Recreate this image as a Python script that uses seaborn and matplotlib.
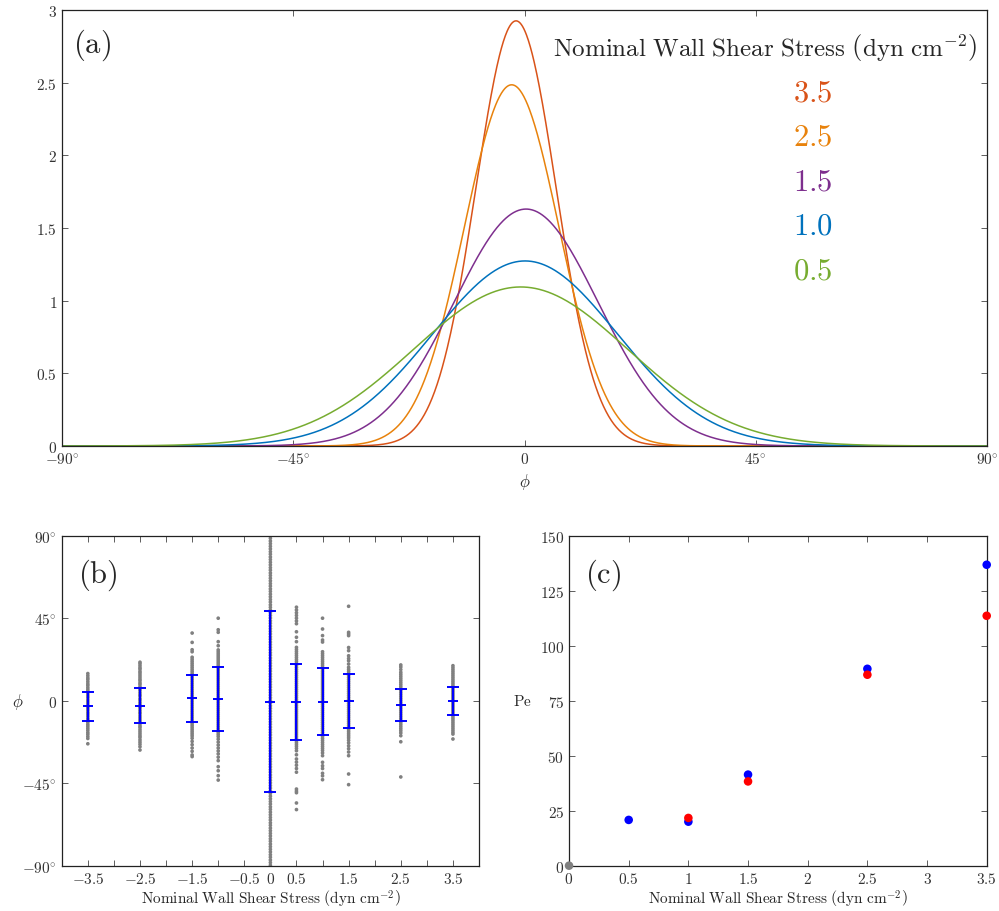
import numpy as np
import pandas as pd
import matplotlib
matplotlib.use("Agg")
import matplotlib.pyplot as plt
import seaborn as sns

# ---------------- data ----------------
# (a) fitted angular distributions: label, peak height, peak position (deg)
curve_labels = ["3.5", "2.5", "1.5", "1.0", "0.5"]
curve_peak = [2.925, 2.485, 1.63, 1.273, 1.094]
curve_center = [-1.65, -2.5, 0.3, 0.1, -0.75]
curve_colors = ["#D95319", "#E8820C", "#7E2F8E", "#0072BD", "#77AC30"]

# (b) individual cell orientations (deg) per nominal wall shear stress
grp_m35 = [14.8, 13.6, 12.4, 11.5, 10.3, 9.1, 8.2, 7.0, 5.9, 4.9, 3.7, 2.6, 1.6, 0.4, -0.7,
           -1.8, -3.0, -4.0, -5.1, -6.3, -7.3, -8.4, -9.6, -10.6, -11.7, -12.9, -13.9, -15.0,
           -16.1, -17.3, -18.3, -19.5, -20.6, -23.5]
grp_m25 = [21.0, 20.2, 19.1, 18.0, 17.2, 16.0, 15.1, 14.0, 12.9, 11.8, 10.9, 9.7, 8.8, 7.6,
           6.5, 5.6, 4.4, 3.3, 2.5, 1.2, 0.3, -0.9, -2.0, -3.1, -4.0, -5.2, -6.3, -7.1, -8.3,
           -9.4, -10.5, -11.5, -12.6, -13.8, -14.7, -15.9, -17.0, -18.1, -19.2, -20.1, -21.4,
           -22.6, -23.8, -25.1, -26.9]
grp_m15 = [36.9, 31.8, 27.8, 26.7, 23.7, 22.6, 21.5, 20.4, 19.3, 18.2, 17.1, 16.0, 14.9, 13.8,
           12.7, 11.6, 10.5, 9.4, 8.3, 7.2, 6.1, 5.0, 3.9, 2.8, 1.7, 0.6, -0.5, -1.6, -2.7,
           -3.8, -4.9, -6.0, -7.1, -8.2, -9.3, -10.4, -11.5, -12.6, -13.7, -14.8, -15.9, -17.0,
           -18.1, -19.2, -20.5, -22.2, -24.0, -25.8, -27.6, -29.6, -30.5]
grp_m10 = [45.0, 38.7, 37.3, 32.2, 30.0, 27.7, 26.6, 25.5, 24.4, 23.3, 22.2, 21.1, 20.0, 18.9,
           17.8, 16.7, 15.6, 14.5, 13.4, 12.3, 11.2, 10.1, 9.0, 7.9, 6.8, 5.7, 4.6, 3.5, 2.4,
           1.3, 0.2, -0.9, -2.0, -3.1, -4.2, -5.3, -6.4, -7.5, -8.6, -9.7, -10.8, -11.9, -13.0,
           -14.1, -15.2, -16.3, -17.4, -18.5, -19.6, -21.0, -22.6, -24.2, -25.8, -27.4, -29.0,
           -30.8, -32.7, -36.0, -38.2, -40.9, -43.3]
grp_00 = [90.0, 88.6, 87.1, 85.7, 84.2, 82.8, 81.3, 79.9, 78.4, 77.0, 75.5, 74.1, 72.6, 71.2,
          69.7, 68.3, 66.8, 65.4, 63.9, 62.5, 61.0, 59.6, 58.1, 56.7, 55.2, 53.8, 52.3, 50.9,
          49.4, 48.0, 46.5, 45.1, 43.6, 42.2, 40.7, 39.3, 37.8, 36.4, 34.9, 33.5, 32.0, 30.6,
          29.1, 27.7, 26.2, 24.8, 23.3, 21.9, 20.4, 19.0, 17.5, 16.1, 14.6, 13.2, 11.7, 10.3,
          8.8, 7.4, 5.9, 4.5, 3.0, 1.6, 0.1, -1.3, -2.8, -4.2, -5.7, -7.1, -8.6, -10.0, -11.5,
          -12.9, -14.4, -15.8, -17.3, -18.7, -20.2, -21.6, -23.1, -24.5, -26.0, -27.4, -28.9,
          -30.3, -31.8, -33.2, -34.7, -36.1, -37.6, -39.0, -40.5, -41.9, -43.4, -44.8, -46.3,
          -47.7, -49.2, -50.6, -52.1, -53.5, -55.0, -56.4, -57.9, -59.3, -60.8, -62.2, -63.7,
          -65.1, -66.6, -68.0, -69.5, -70.9, -72.4, -73.8, -75.3, -76.7, -78.2, -79.6, -81.1,
          -82.5, -84.0, -85.4, -86.9, -88.3, -89.8]
grp_05 = [51.0, 49.5, 48.0, 46.5, 45.0, 43.5, 42.0, 37.6, 34.6, 32.2, 29.1, 28.0, 26.9, 25.8,
          24.7, 23.6, 22.5, 21.4, 20.3, 19.2, 18.1, 17.0, 15.9, 14.8, 13.7, 12.6, 11.5, 10.4,
          9.3, 8.2, 7.1, 6.0, 4.9, 3.8, 2.7, 1.6, 0.5, -0.6, -1.7, -2.8, -3.9, -5.0, -6.1, -7.2,
          -8.3, -9.4, -10.5, -11.6, -12.7, -13.8, -14.9, -16.0, -17.1, -18.2, -19.3, -20.4,
          -21.5, -22.6, -23.7, -24.8, -26.0, -27.3, -29.5, -31.8, -33.5, -35.2, -37.0, -39.0,
          -48.2, -49.3, -50.2, -55.8, -59.4]
grp_10 = [45.0, 39.1, 35.5, 33.1, 32.0, 26.7, 25.6, 24.5, 23.4, 22.3, 21.2, 20.1, 19.0, 17.9,
          16.8, 15.7, 14.6, 13.5, 12.4, 11.3, 10.2, 9.1, 8.0, 6.9, 5.8, 4.7, 3.6, 2.5, 1.4, 0.3,
          -0.8, -1.9, -3.0, -4.1, -5.2, -6.3, -7.4, -8.5, -9.6, -10.7, -11.8, -12.9, -14.0,
          -15.1, -16.2, -17.3, -18.4, -19.5, -20.6, -21.7, -22.8, -23.9, -25.0, -26.1, -27.2,
          -28.5, -30.0, -33.6, -35.5, -37.0, -39.6, -41.0, -43.1]
grp_15 = [51.5, 37.3, 36.4, 35.5, 29.0, 27.3, 24.5, 23.0, 21.8, 20.0, 18.2, 17.1, 16.0, 14.9,
          13.8, 12.7, 11.6, 10.5, 9.4, 8.3, 7.2, 6.1, 5.0, 3.9, 2.8, 1.7, 0.6, -0.5, -1.6, -2.7,
          -3.8, -4.9, -6.0, -7.1, -8.2, -9.3, -10.4, -11.5, -12.6, -13.7, -14.8, -15.9, -17.0,
          -18.1, -19.2, -20.3, -21.6, -23.0, -24.6, -26.2, -28.0, -30.0, -40.0, -45.8]
grp_25 = [19.5, 18.4, 17.0, 15.5, 14.4, 13.3, 12.2, 11.1, 10.0, 8.9, 7.8, 6.7, 5.6, 4.5, 3.4,
          2.3, 1.2, 0.1, -1.0, -2.1, -3.2, -4.3, -5.4, -6.5, -7.6, -8.7, -9.8, -10.9, -12.0,
          -13.1, -14.2, -15.3, -16.4, -17.6, -19.1, -22.4, -41.6]
grp_35 = [19.1, 18.0, 16.9, 15.8, 14.7, 13.6, 12.5, 11.4, 10.3, 9.2, 8.1, 7.0, 5.9, 4.8, 3.7,
          2.6, 1.5, 0.4, -0.7, -1.8, -2.9, -4.0, -5.1, -6.2, -7.3, -8.4, -9.5, -10.6, -11.7,
          -12.8, -13.9, -15.0, -16.1, -17.2, -18.2, -20.9]
group_x = [-3.5, -2.5, -1.5, -1.0, 0.0, 0.5, 1.0, 1.5, 2.5, 3.5]
group_vals = [grp_m35, grp_m25, grp_m15, grp_m10, grp_00, grp_05, grp_10, grp_15, grp_25, grp_35]

# (b) mean and standard deviation per group (deg)
bar_mean = [-3.1, -2.65, 1.2, 0.95, -0.45, -0.8, -0.55, -0.3, -2.3, -0.15]
bar_std = [7.8, 9.55, 13.0, 17.45, 49.55, 20.8, 18.35, 14.7, 8.8, 7.65]

# (c) Peclet numbers
pe_x_blue = [0.5, 1.0, 1.5, 2.5, 3.5]
pe_blue = [20.8, 20.0, 41.4, 89.5, 136.8]
pe_x_red = [1.0, 1.5, 2.5, 3.5]
pe_red = [21.7, 38.3, 86.8, 113.6]
pe_x_grey = [0.0]
pe_grey = [0.0]

# ---------------- style ----------------
sns.set_theme(style="ticks")
plt.rcParams.update({
    "font.family": ["DejaVu Serif"],
    "mathtext.fontset": "cm",
    "xtick.direction": "in",
    "ytick.direction": "in",
    "xtick.top": True,
    "ytick.right": True,
    "xtick.major.size": 4,
    "ytick.major.size": 4,
    "xtick.major.width": 0.6,
    "ytick.major.width": 0.6,
    "axes.linewidth": 0.9,
    "axes.edgecolor": "#222222",
    "xtick.color": "#444444",
    "ytick.color": "#444444",
    "xtick.labelcolor": "#333333",
    "ytick.labelcolor": "#333333",
})

fig = plt.figure(figsize=(9.99, 9.12), dpi=100)
ax_a = fig.add_axes([0.0621, 0.5099, 0.9259, 0.4781])
ax_b = fig.add_axes([0.0618, 0.0497, 0.4177, 0.3618])
ax_c = fig.add_axes([0.5696, 0.0497, 0.4181, 0.3618])

TICK_FS = 11
LBL_FS = 11

# ---------------- (a) ----------------
phi = np.linspace(-90, 90, 1441)
rows = []
for lab, pk, c in zip(curve_labels, curve_peak, curve_center):
    sigma_deg = np.degrees(1.0 / (pk * np.sqrt(2 * np.pi)))
    dens = pk * np.exp(-0.5 * ((phi - c) / sigma_deg) ** 2)
    rows.append(pd.DataFrame({"phi": phi, "density": dens, "tau": lab}))
df_a = pd.concat(rows, ignore_index=True)
sns.lineplot(data=df_a, x="phi", y="density", hue="tau", hue_order=curve_labels,
             palette=curve_colors, linewidth=1.1, legend=False, ax=ax_a)
ax_a.set_xlim(-90, 90)
ax_a.set_ylim(0, 3)
ax_a.set_xticks([-90, -45, 0, 45, 90])
ax_a.set_xticklabels([r"$-90^{\circ}$", r"$-45^{\circ}$", r"$0$", r"$45^{\circ}$", r"$90^{\circ}$"],
                     fontsize=TICK_FS)
ax_a.set_yticks([0, 0.5, 1, 1.5, 2, 2.5, 3])
ax_a.set_yticklabels([r"$0$", r"$0.5$", r"$1$", r"$1.5$", r"$2$", r"$2.5$", r"$3$"], fontsize=TICK_FS)
ax_a.set_xlabel(r"$\phi$", fontsize=LBL_FS + 1, labelpad=4)
ax_a.set_ylabel("")
ax_a.text(0.012, 0.922, r"$(\mathrm{a})$", transform=ax_a.transAxes, fontsize=22,
          ha="left", va="center")
ax_a.text(0.760, 0.917, r"$\mathrm{Nominal\ Wall\ Shear\ Stress}\ \left(\mathrm{dyn\ cm}^{-2}\right)$",
          transform=ax_a.transAxes, fontsize=18, ha="center", va="center")
for lab, col, yy in zip(curve_labels, curve_colors, [0.812, 0.711, 0.608, 0.507, 0.404]):
    ax_a.text(0.812, yy, "$" + lab + "$", transform=ax_a.transAxes, fontsize=22,
              color=col, ha="center", va="center")

# ---------------- (b) ----------------
pts_x, pts_y = [], []
for gx, vals in zip(group_x, group_vals):
    pts_x += [gx] * len(vals)
    pts_y += list(vals)
df_b = pd.DataFrame({"tau": pts_x, "phi": pts_y})
sns.scatterplot(data=df_b, x="tau", y="phi", color="#808080", s=7, linewidth=0,
                edgecolor="none", ax=ax_b, zorder=2)
ax_b.errorbar(group_x, bar_mean, yerr=bar_std, fmt="_", color="blue", ecolor="blue",
              elinewidth=1.5, capsize=4.6, capthick=1.4, markersize=6.5, mew=1.4, zorder=3)
ax_b.set_xlim(-4, 4)
ax_b.set_ylim(-90, 90)
xt = [-3.5, -3, -2.5, -2, -1.5, -1, -0.5, 0, 0.5, 1, 1.5, 2, 2.5, 3, 3.5]
xtl = [r"$-3.5$", "", r"$-2.5$", "", r"$-1.5$", "", r"$-0.5$", r"$0$", r"$0.5$", "",
       r"$1.5$", "", r"$2.5$", "", r"$3.5$"]
ax_b.set_xticks(xt)
ax_b.set_xticklabels(xtl, fontsize=TICK_FS)
ax_b.set_yticks([-90, -45, 0, 45, 90])
ax_b.set_yticklabels([r"$-90^{\circ}$", r"$-45^{\circ}$", r"$0$", r"$45^{\circ}$", r"$90^{\circ}$"],
                     fontsize=TICK_FS)
ax_b.set_xlabel(r"$\mathrm{Nominal\ Wall\ Shear\ Stress}\ \left(\mathrm{dyn\ cm}^{-2}\right)$",
                fontsize=LBL_FS, labelpad=2)
ax_b.set_ylabel(r"$\phi$", fontsize=LBL_FS + 1, rotation=0, va="center", ha="center")
ax_b.yaxis.set_label_coords(-0.105, 0.5)
ax_b.text(0.039, 0.884, r"$(\mathrm{b})$", transform=ax_b.transAxes, fontsize=22,
          ha="left", va="center")

# ---------------- (c) ----------------
df_blue = pd.DataFrame({"tau": pe_x_blue, "Pe": pe_blue})
df_red = pd.DataFrame({"tau": pe_x_red, "Pe": pe_red})
df_grey = pd.DataFrame({"tau": pe_x_grey, "Pe": pe_grey})
for d, col in [(df_grey, "#808080"), (df_blue, "blue"), (df_red, "red")]:
    sns.scatterplot(data=d, x="tau", y="Pe", color=col, s=38, linewidth=0,
                    edgecolor="none", ax=ax_c, clip_on=False, zorder=4)
ax_c.set_xlim(0, 3.5)
ax_c.set_ylim(0, 150)
ax_c.set_xticks([0, 0.5, 1, 1.5, 2, 2.5, 3, 3.5])
ax_c.set_xticklabels([r"$0$", r"$0.5$", r"$1$", r"$1.5$", r"$2$", r"$2.5$", r"$3$", r"$3.5$"],
                     fontsize=TICK_FS)
ax_c.set_yticks([0, 25, 50, 75, 100, 125, 150])
ax_c.set_yticklabels([r"$0$", r"$25$", r"$50$", r"$75$", r"$100$", r"$125$", r"$150$"],
                     fontsize=TICK_FS)
ax_c.set_xlabel(r"$\mathrm{Nominal\ Wall\ Shear\ Stress}\ \left(\mathrm{dyn\ cm}^{-2}\right)$",
                fontsize=LBL_FS, labelpad=2)
ax_c.set_ylabel(r"$\mathrm{Pe}$", fontsize=LBL_FS, rotation=0, va="center", ha="center")
ax_c.yaxis.set_label_coords(-0.113, 0.5)
ax_c.text(0.038, 0.884, r"$(\mathrm{c})$", transform=ax_c.transAxes, fontsize=22,
          ha="left", va="center")

fig.savefig("out.png", dpi=100)
